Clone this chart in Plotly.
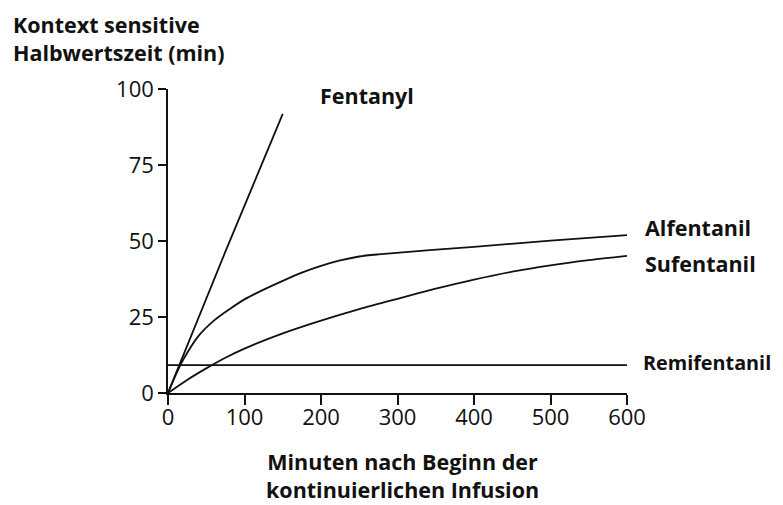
import plotly.graph_objects as go

# ---- data ----
fentanyl_min = [0, 75, 150]
fentanyl = [0, 46.5, 91.8]

alfentanil_min = [0, 10, 20, 40, 60, 80, 100, 125, 150, 175, 200, 225, 250, 275, 400, 500, 600]
alfentanil = [0, 5.9, 11.0, 18.8, 23.8, 27.5, 30.8, 34.0, 36.9, 39.6, 41.8, 43.6, 44.9, 45.6,
              48.1, 50.1, 51.9]

sufentanil_min = [0, 25, 50, 75, 100, 150, 200, 250, 300, 350, 400, 450, 500, 550, 600]
sufentanil = [0, 4.3, 8.1, 11.6, 14.6, 19.6, 23.8, 27.6, 31.0, 34.3, 37.3, 39.9, 42.0, 43.7, 45.1]

remifentanil_min = [0, 600]
remifentanil = [9.2, 9.2]

x_ticks = [0, 100, 200, 300, 400, 500, 600]
y_ticks = [0, 25, 50, 75, 100]

series_names = ["Fentanyl", "Alfentanil", "Sufentanil", "Remifentanil"]

y_title = "Kontext sensitive<br>Halbwertszeit (min)"
x_title = "Minuten nach Beginn der<br>kontinuierlichen Infusion"

# ---- figure ----
INK = "#111111"
fig = go.Figure()
fig.add_trace(go.Scatter(x=fentanyl_min, y=fentanyl, mode="lines", name=series_names[0],
                         line=dict(color=INK, width=1.8), showlegend=False))
fig.add_trace(go.Scatter(x=alfentanil_min, y=alfentanil, mode="lines", name=series_names[1],
                         line=dict(color=INK, width=1.8, shape="spline", smoothing=0.8),
                         showlegend=False))
fig.add_trace(go.Scatter(x=sufentanil_min, y=sufentanil, mode="lines", name=series_names[2],
                         line=dict(color=INK, width=1.8, shape="spline", smoothing=0.8),
                         showlegend=False))
fig.add_trace(go.Scatter(x=remifentanil_min, y=remifentanil, mode="lines", name=series_names[3],
                         line=dict(color=INK, width=1.8), showlegend=False))

def bold(size):
    return dict(family="Open Sans", size=size, color=INK, weight="bold")

# Fentanyl label sits inside the plot
fig.add_annotation(x=196, y=97.9, xref="x", yref="y", text=series_names[0],
                   showarrow=False, xanchor="left", yanchor="middle", font=bold(21.5))
# other labels to the right of the plot area (paper coordinates)
right_labels = [(series_names[1], 1.034, 0.544, 21.5), (series_names[2], 1.034, 0.4254, 21.5),
                (series_names[3], 1.030, 0.0997, 19.8)]
for name, px_, py, sz in right_labels:
    fig.add_annotation(x=px_, y=py, xref="paper", yref="paper", text=name,
                       showarrow=False, xanchor="left", yanchor="middle", font=bold(sz))

# axis titles
fig.add_annotation(x=-0.343, y=1.265, xref="paper", yref="paper", text=y_title,
                   showarrow=False, xanchor="left", yanchor="top", align="left",
                   font=bold(21.5))
fig.add_annotation(x=0.51, y=-0.273, xref="paper", yref="paper", text=x_title,
                   showarrow=False, xanchor="center", yanchor="middle", align="center",
                   font=bold(21.5))

axis_common = dict(showgrid=False, zeroline=False, showline=True,
                   linecolor=INK, linewidth=1.6, ticks="outside",
                   tickcolor=INK, tickwidth=1.6,
                   tickfont=dict(family="Open Sans", size=22, color=INK))

fig.update_xaxes(range=[0, 600], tickvals=x_ticks, ticklen=10, ticklabelstandoff=-6,
                 **axis_common)
fig.update_yaxes(range=[0, 100], tickvals=y_ticks, ticklen=8, **axis_common)

# page body has an 8px default margin, so the figure is offset by 8px
fig.update_layout(width=775, height=497,
                  margin=dict(l=160, r=156, t=81, b=112),
                  paper_bgcolor="white", plot_bgcolor="white")

fig.write_html("out.html")
